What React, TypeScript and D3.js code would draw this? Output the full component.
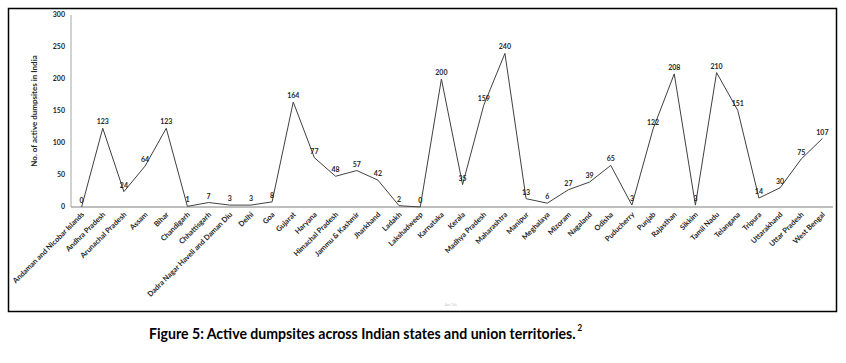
import React from "react";
import * as d3 from "d3";

const states = [
  "Andaman and Nicobar Islands", "Andhra Pradesh", "Arunachal Pradesh", "Assam", "Bihar",
  "Chandigarh", "Chhattisgarh", "Dadra Nagar Haveli and Daman Diu", "Delhi", "Goa",
  "Gujarat", "Haryana", "Himachal Pradesh", "Jammu & Kashmir", "Jharkhand", "Ladakh",
  "Lakshadweep", "Karnataka", "Kerala", "Madhya Pradesh", "Maharashtra", "Manipur",
  "Meghalaya", "Mizoram", "Nagaland", "Odisha", "Puducherry", "Punjab", "Rajasthan",
  "Sikkim", "Tamil Nadu", "Telangana", "Tripura", "Uttarakhand", "Uttar Pradesh", "West Bengal",
];
const dumpsites = [
  0, 123, 24, 64, 123, 1, 7, 3, 3, 8, 164, 77, 48, 57, 42, 2, 0, 200, 35, 159, 240, 13,
  6, 27, 39, 65, 3, 122, 208, 3, 210, 151, 14, 30, 75, 107,
];
const yTicks = [0, 50, 100, 150, 200, 250, 300];

const W = 846;
const H = 363;
const left = 71;
const right = 833;
const top = 15;
const bottom = 207;
const font = "Lato, 'Open Sans', sans-serif";

export default function App() {
  const x = d3.scaleBand<string>().domain(states).range([left, right]);
  const y = d3.scaleLinear().domain([0, 300]).range([bottom, top]);
  const cx = (s: string) => (x(s) ?? 0) + x.bandwidth() / 2;

  const line = d3
    .line<number>()
    .x((_, i) => cx(states[i]))
    .y((d) => y(d));

  return (
    <svg
      width={W}
      height={H}
      style={{ position: "absolute", left: 0, top: 0, background: "#fff" }}
    >
      <rect x={8.5} y={8.5} width={828} height={303} fill="#fff" stroke="#000" strokeWidth={1.5} />

      {/* y axis */}
      <line x1={left} x2={left} y1={top} y2={bottom} stroke="#a6a6a6" strokeWidth={1} />
      {yTicks.map((t) => (
        <text
          key={t}
          x={left - 6}
          y={y(t)}
          dy="0.35em"
          textAnchor="end"
          fontFamily={font}
          fontWeight="bold"
          fontSize={7}
          fill="#262626"
        >
          {t}
        </text>
      ))}
      <text
        transform={`translate(37,${(top + bottom) / 2}) rotate(-90)`}
        textAnchor="middle"
        fontFamily={font}
        fontWeight="bold"
        fontSize={8}
        fill="#262626"
      >
        No. of active dumpsites in India
      </text>

      {/* x axis */}
      <line x1={left} x2={right} y1={bottom} y2={bottom} stroke="#7f7f7f" strokeWidth={1} />
      {states.map((s) => (
        <text
          key={s}
          transform={`translate(${cx(s) + 3},${bottom + 8}) rotate(-45)`}
          textAnchor="end"
          fontFamily={font}
          fontWeight="bold"
          fontSize={7.4}
          fill="#262626"
        >
          {s}
        </text>
      ))}

      <path d={line(dumpsites) ?? ""} fill="none" stroke="#404040" strokeWidth={1} />

      {dumpsites.map((v, i) => (
        <text
          key={states[i]}
          x={cx(states[i])}
          y={y(v) - 4}
          textAnchor="middle"
          fontFamily={font}
          fontWeight="bold"
          fontSize={7}
          fill="#262626"
        >
          {v}
        </text>
      ))}

      <text x={451} y={306} textAnchor="middle" fontFamily={font} fontSize={3} fill="#bfbfbf">
        Axis Title
      </text>

      <text
        x={149}
        y={339}
        fontFamily={font}
        fontWeight="bold"
        fontSize={16}
        textLength={433}
        lengthAdjust="spacingAndGlyphs"
        fill="#000"
      >
        Figure 5: Active dumpsites across Indian states and union territories.
        <tspan fontSize={9} dx={2} dy={-8}>2</tspan>
      </text>
    </svg>
  );
}
